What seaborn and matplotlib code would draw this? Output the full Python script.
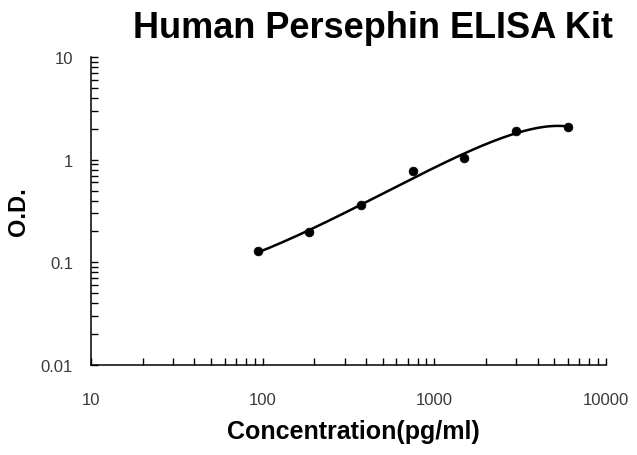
import numpy as np
import pandas as pd
import matplotlib
matplotlib.use('Agg')
import matplotlib.pyplot as plt
import matplotlib.ticker as mticker
import seaborn as sns

# standard curve points
concentration = [93.75, 187.5, 375, 750, 1500, 3000, 6000]
od = [0.128, 0.196, 0.365, 0.776, 1.03, 1.89, 2.10]

x_ticks = [10, 100, 1000, 10000]
x_tick_labels = ['10', '100', '1000', '10000']
y_ticks = [0.01, 0.1, 1, 10]
y_tick_labels = ['0.01', '0.1', '1', '10']

sns.set_style('ticks')
plt.rcParams['font.family'] = ['Liberation Sans', 'DejaVu Sans']

df = pd.DataFrame({'conc': concentration, 'od': od})

# 3rd order polynomial trendline fitted to the points (relative weights)
coef = np.polyfit(df['conc'], df['od'], 3, w=1 / df['od'])
fit_x = np.logspace(np.log10(df['conc'].min()), np.log10(df['conc'].max()), 200)
df_fit = pd.DataFrame({'conc': fit_x, 'od': np.polyval(coef, fit_x)})

fig = plt.figure(figsize=(6.37, 4.56), dpi=100)
ax = fig.add_axes([0.143, 0.197, 0.808, 0.676])

sns.lineplot(data=df_fit, x='conc', y='od', color='black', linewidth=1.8, ax=ax)
sns.scatterplot(data=df, x='conc', y='od', color='black', s=40, edgecolor='black', zorder=3, ax=ax)

ax.set_xscale('log')
ax.set_yscale('log')
ax.set_xlim(10, 10000)
ax.set_ylim(0.01, 10)
ax.set_xticks(x_ticks)
ax.set_xticklabels(x_tick_labels)
ax.set_yticks(y_ticks)
ax.set_yticklabels(y_tick_labels)
ax.xaxis.set_minor_locator(mticker.LogLocator(base=10, subs=np.arange(2, 10)))
ax.yaxis.set_minor_locator(mticker.LogLocator(base=10, subs=np.arange(2, 10)))
ax.xaxis.set_minor_formatter(mticker.NullFormatter())
ax.yaxis.set_minor_formatter(mticker.NullFormatter())
ax.tick_params(which='both', direction='in', length=5, width=1, color='black',
               labelsize=12, labelcolor='#3a3a3a')
ax.tick_params(axis='x', which='both', pad=19)
ax.tick_params(axis='y', which='both', pad=13)

for s in ['top', 'right']:
    ax.spines[s].set_visible(False)
for s in ['left', 'bottom']:
    ax.spines[s].set_linewidth(1.1)
    ax.spines[s].set_color('black')

ax.set_xlabel('Concentration(pg/ml)', fontsize=18, fontweight='bold', color='black')
ax.xaxis.set_label_coords(0.509, -0.174)
ax.set_ylabel('O.D.', fontsize=17, fontweight='bold', color='black')
ax.yaxis.set_label_coords(-0.118, 0.5)
fig.suptitle('Human Persephin ELISA Kit', x=0.585, y=0.975, fontsize=26, fontweight='bold', color='black')

fig.savefig('out.png', dpi=100)
